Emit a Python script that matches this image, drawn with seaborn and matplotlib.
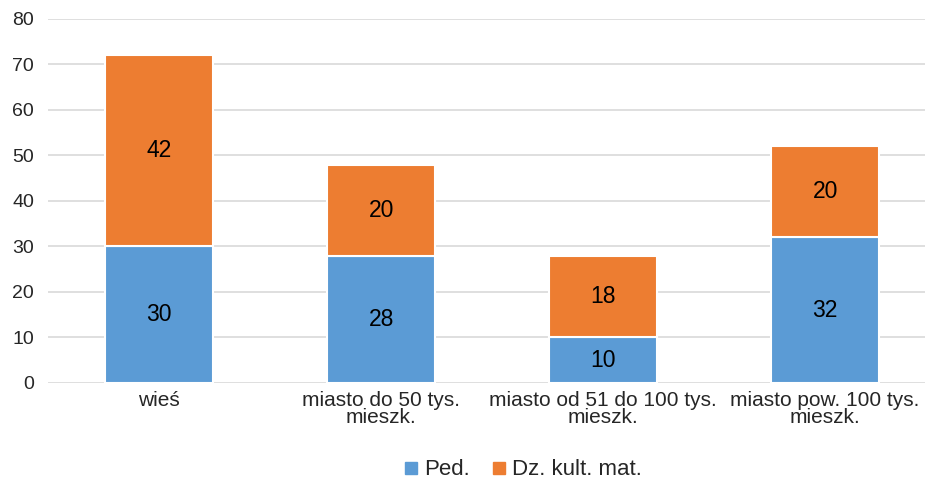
import seaborn as sns
import matplotlib.pyplot as plt
import pandas as pd
import numpy as np

# Datos
kategorie = ['wieś', 'miasto do 50 tys.\nmieszk.', 'miasto od 51 do 100 tys.\nmieszk.', 'miasto pow. 100 tys.\nmieszk.']
ped = [30, 28, 10, 32]
dz_kult_mat = [42, 20, 18, 20]
etykiety_serii = ['Ped.', 'Dz. kult. mat.']
kolory = ['#5B9BD5', '#ED7D31']

df = pd.DataFrame({'kategoria': kategorie, 'Ped': ped, 'Dz': dz_kult_mat})

sns.set_style('white')
plt.rcParams['font.family'] = ['Liberation Sans', 'DejaVu Sans']

fig = plt.figure(figsize=(9.25, 4.82), dpi=100)
ax = fig.add_axes([0.052, 0.2054, 0.948, 0.7552])

# Barras apiladas
sns.barplot(data=df, x='kategoria', y='Ped', color=kolory[0], width=0.49, saturation=1,
            edgecolor='white', linewidth=1.5, ax=ax, zorder=3)
sns.barplot(data=df, x='kategoria', y='Dz', color=kolory[1], width=0.49, saturation=1,
            bottom=df['Ped'], edgecolor='white', linewidth=1.5, ax=ax, zorder=3)

# Etiquetas de valores
for i, (p, d) in enumerate(zip(ped, dz_kult_mat)):
    ax.text(i, p / 2, f'{p}', ha='center', va='center', fontsize=16.5, color='black', zorder=4)
    ax.text(i, p + d / 2, f'{d}', ha='center', va='center', fontsize=16.5, color='black', zorder=4)

ax.set_ylim(0, 80)
ax.set_xlim(-0.5, 3.45)
ax.set_yticks(np.arange(0, 81, 10))
ax.yaxis.grid(True, color='#D9D9D9', linewidth=1.2, zorder=0)
ax.set_axisbelow(True)
for s in ax.spines.values():
    s.set_visible(False)
ax.set_xlabel('')
ax.set_ylabel('')
ax.tick_params(axis='both', length=0, colors='#262626')
ax.tick_params(axis='x', pad=6, labelsize=15)
ax.tick_params(axis='y', pad=10, labelsize=14)
for lab in ax.get_xticklabels():
    lab.set_linespacing(0.85)

# Leyenda
uchwyty = [plt.Line2D([], [], marker='s', linestyle='', markersize=9, color=c) for c in kolory]
fig.legend(uchwyty, etykiety_serii, loc='center', bbox_to_anchor=(0.563, 0.025),
           ncol=2, frameon=False, fontsize=16, handletextpad=0.1, columnspacing=0.8,
           handlelength=1.0)

plt.savefig('out.png', dpi=100)
plt.close()
